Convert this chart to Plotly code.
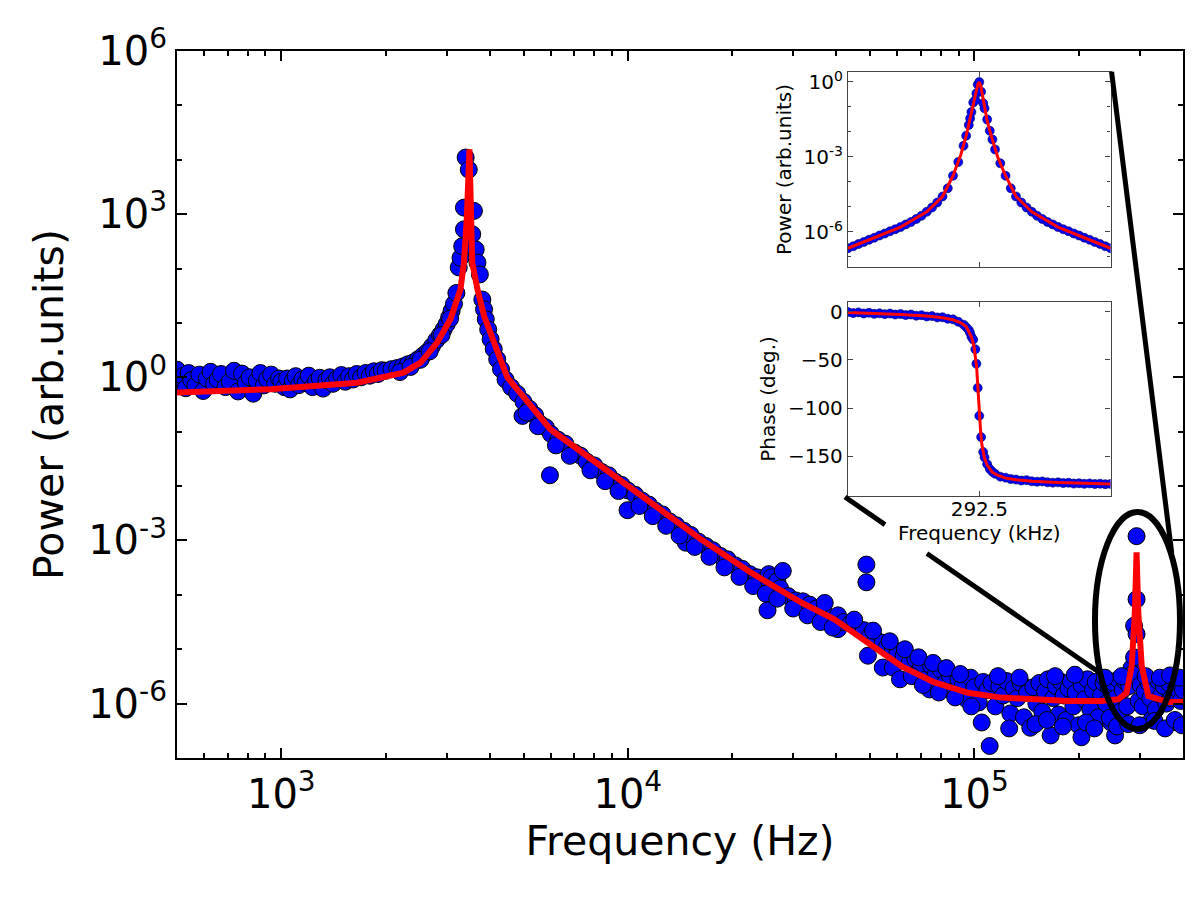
import math
import plotly.graph_objects as go

# ---------------- main spectrum: measured points (Hz, arb. units) ----------------
scatter_freq_hz = [
    500, 510, 520, 530, 540, 550, 565, 580, 595, 610, 625, 640, 655, 670, 690, 710, 730, 750, 770, 790,
    810, 830, 850, 870, 890, 910, 935, 960, 985,
    1000, 1020, 1040, 1060, 1080, 1100, 1125, 1150, 1175, 1200, 1230, 1260, 1290, 1320, 1350, 1380, 1410,
    1450, 1490, 1530, 1570, 1610, 1650, 1700, 1750, 1800, 1850, 1900, 1950,
    2000, 2080, 2160, 2240, 2320, 2400, 2480, 2560, 2640, 2720, 2800, 2870, 2940, 3000, 3050, 3100, 3150, 3200,
    2200, 2360, 2520, 2680, 2900, 3070,
    3251, 3289, 3327, 3365, 3365, 3404, 3475, 3556, 3597, 3639, 3681, 3741,
    3802, 3846, 3890, 3954, 4018, 4102, 4198, 4305, 4436, 4603, 4797, 4966,
    5000, 5200, 5400, 5600, 5800, 6000, 5960, 6300, 6600, 7000, 7300, 7600, 8000, 8400, 8800, 9200, 9600,
    10000, 9980, 10500, 11000, 11500, 12000, 12600, 13200, 13800, 14500, 14700, 15200, 16000, 16800, 17600,
    18500, 19400, 20400, 21400, 22500, 23600, 24800, 25500, 26000, 26500, 27000, 27500, 28000, 25300,
    29000, 30500, 32000, 33500, 35000, 36700, 37000, 38500, 40400, 40400, 42000, 44000, 46000, 48000,
    48800, 48800, 49300, 50000, 52000, 54400, 54400, 56000, 58200, 58200, 60000, 62500, 65000, 67500,
    70000, 72500, 74300, 75000, 77500, 80000, 82500, 85000, 87500, 90000, 92500, 95000, 97500,
    100000, 103000, 106000, 110700, 109000, 112000, 115000, 118000, 121000, 124000, 127000, 130000,
    133000, 136000, 139000, 142000, 145000, 148000, 151000, 154000, 157000, 160000, 163000, 166000,
    169000, 172000, 175000, 178000, 181000, 184000, 187000, 190000, 193000, 196000, 200000, 203700,
    204000, 208000, 212000, 216000, 220000, 224000, 228000, 232000, 236000, 240000, 244000, 248000,
    252000, 254700, 256000, 260000, 264000, 268000, 272000, 276000, 280000, 284000,
    293800, 293800, 289000, 293800, 289000, 286000,
    298000, 302000, 306000, 310000, 325000, 318000, 322000, 328000, 334000, 340000, 346000, 352000,
    358000, 364000, 370000, 384000, 382000, 388000, 394000, 400000,
    # lower edge of the band, 5-40 kHz
    5100, 5500, 6200, 6800, 7800, 8600, 9400, 10800, 11800, 12900, 14100, 15600, 17200, 19000, 21000,
    23000, 25000, 27000, 30000, 33000, 36000, 39000,
    # upper and lower edges, 45-100 kHz
    45000, 51000, 57000, 63000, 69000, 76000, 83000, 91000, 61000, 66000, 71000, 79000, 88000, 98000,
    # noise floor edges, 100-400 kHz
    105000, 117000, 126000, 135000, 150000, 162000, 171000, 180000, 195000, 210000, 222000, 238000,
    246000, 258000, 266000, 278000, 300000, 312000, 331000, 343000, 355000, 367000, 379000, 391000, 397000,
]
scatter_power = [
    1.38, 0.79, 1.05, 0.63, 1.2, 0.89, 0.71, 1.12, 0.56, 0.95, 1.26, 0.76, 0.91, 1.15, 0.66, 0.83, 1.32, 0.55, 1.17, 0.79,
    1.0, 0.50, 0.87, 1.2, 0.71, 0.93, 1.12, 0.76, 0.95,
    0.83, 0.66, 0.95, 0.60, 0.87, 1.05, 0.72, 0.91, 0.79, 1.07, 0.66, 0.85, 0.98, 0.62, 0.89, 1.0, 0.76,
    0.95, 1.10, 0.83, 1.05, 0.91, 1.15, 1.0, 1.2, 1.07, 1.29, 1.15, 1.35,
    1.32, 1.41, 1.48, 1.58, 1.74, 1.86, 2.14, 2.5, 2.95, 3.7, 4.8, 6.0, 7.6, 9.5, 12.6, 16.6, 22.4, 35.5,
    1.25, 1.55, 2.1, 3.0, 6.0, 12.0,
    105, 158, 257, 525, 1318, 11000, 6600, 427, 1148, 224, 129, 78,
    26.9, 17.8, 11.7, 7.6, 5.0, 3.3, 2.14, 1.41, 0.91, 0.66, 0.50, 0.195,
    0.355, 0.263, 0.20, 0.138, 0.12, 0.091, 0.0158, 0.0708, 0.060, 0.0417, 0.0363, 0.0282, 0.024, 0.0182, 0.0158, 0.012, 0.0105,
    0.0083, 0.0036, 0.0069, 0.0054, 0.00457, 0.00355, 0.0030, 0.00224, 0.0019, 0.00151, 0.00091, 0.00126, 0.00095, 0.00079, 0.00066,
    0.00052, 0.00045, 0.00035, 0.00030, 0.00024, 0.00021, 0.00019, 0.00024, 0.00021, 0.000158, 0.000178, 0.000132, 0.000275, 5.2e-5,
    9.5e-5, 7.9e-5, 7.6e-5, 6.6e-5, 5.6e-5, 5.0e-5, 7.1e-5, 3.0e-5, 2.34e-5, 4.2e-5, 3.16e-5, 3.0e-5, 2.5e-5, 2.24e-5,
    3.6e-4, 1.7e-4, 7.6e-6, 1.78e-5, 1.5e-5, 4.6e-6, 1.32e-5, 1.12e-5, 4.6e-6, 1.0e-5, 8.9e-6, 7.6e-6, 5.6e-6, 6.6e-6,
    4.5e-6, 2.8e-6, 1.82e-6, 5.0e-6, 3.5e-6, 4.2e-6, 2.4e-6, 3.3e-6, 1.58e-6, 2.8e-6, 2.1e-6, 1.2e-6, 3.0e-6,
    2.0e-6, 1.05e-6, 2.5e-6, 1.66e-7, 1.78e-6, 2.4e-6, 8.9e-7, 2.1e-6, 1.41e-6, 2.6e-6, 6.6e-7, 1.9e-6,
    1.26e-6, 2.4e-6, 5.6e-7, 1.58e-6, 3.6e-7, 2.0e-6, 1.0e-6, 2.4e-6, 7.1e-7, 1.66e-6, 2.8e-6, 2.6e-7,
    1.26e-6, 2.1e-6, 6.3e-7, 2.5e-6, 1.41e-6, 5.0e-7, 1.9e-6, 2.6e-6, 8.9e-7, 1.58e-6, 4.0e-7, 2.4e-7,
    2.2e-6, 1.2e-6, 2.8e-6, 7.9e-7, 1.78e-6, 2.5e-6, 5.6e-7, 1.41e-6, 2.4e-6, 1.0e-6, 2.0e-6, 4.5e-7,
    2.4e-6, 2.6e-7, 1.26e-6, 2.8e-6, 7.1e-7, 1.78e-6, 2.6e-6, 8.9e-7, 2.1e-6, 4.5e-6,
    1.2e-3, 8.3e-5, 2.7e-5, 1.9e-5, 7.1e-6, 3.5e-6,
    1.12e-6, 2.2e-6, 8.9e-7, 1.66e-6, 5.1e-7, 2.4e-6, 1.26e-6, 2.0e-6, 7.9e-7, 2.6e-6, 1.41e-6, 2.1e-6,
    1.0e-6, 2.4e-6, 1.26e-6, 4.5e-7, 1.9e-6, 2.5e-6, 1.12e-6, 1.78e-6,
    0.224, 0.126, 0.056, 0.036, 0.0195, 0.0123, 0.0081, 0.0043, 0.0028, 0.00186, 0.00123, 0.00076, 0.0005, 0.00032, 0.000214,
    0.000145, 1.05e-4, 8.5e-5, 5.6e-5, 4.2e-5, 3.16e-5, 2.5e-5,
    3.5e-5, 2.2e-5, 1.4e-5, 1.0e-5, 7.1e-6, 5.6e-6, 4.5e-6, 3.5e-6, 2.8e-6, 3.2e-6, 2.2e-6, 1.6e-6, 1.3e-6, 8.9e-7,
    4.5e-7, 3.2e-6, 3.5e-7, 3.0e-6, 4.2e-7, 5.0e-7, 3.2e-6, 3.8e-7, 3.4e-6, 4.5e-7, 3.5e-7, 3.0e-6,
    5.5e-7, 3.8e-7, 3.2e-6, 4.2e-7, 4.0e-7, 3.2e-6, 4.8e-7, 3.0e-6, 3.5e-7, 3.3e-6, 5.0e-7, 3.0e-6, 4.0e-7,
]

# ---------------- main spectrum: fitted curve ----------------
fit_freq_hz = [
    500, 929, 1656, 2254, 2523, 2818, 3076, 3289, 3365, 3428, 3491, 3540, 3556, 3681, 3846, 4111, 4487,
    5012, 5984, 8356, 11641, 16255, 22646, 31623, 39446, 49317, 61518, 76736, 95940, 119670, 149280,
    186640, 232810, 260020, 274790, 284450, 290400, 293800, 297200, 304100, 317700, 363080, 400000,
]
fit_power = [
    0.525, 0.603, 0.794, 1.22, 1.86, 4.37, 11.7, 41.7, 129, 794, 15490, 794, 129, 41.7, 13.5, 4.37, 1.0,
    0.427, 0.110, 0.0234, 0.00501, 0.00105, 2.57e-4, 7.24e-5, 3.55e-5, 1.32e-5, 4.90e-6, 2.45e-6, 1.58e-6,
    1.29e-6, 1.17e-6, 1.12e-6, 1.12e-6, 1.20e-6, 1.58e-6, 4.90e-6, 4.68e-5, 6.03e-4, 4.68e-5, 4.90e-6,
    1.38e-6, 1.07e-6, 1.07e-6,
]

# ---------------- inset: zoom on the 292.5 kHz mode ----------------
inset_freq_khz = [
    292.00, 292.02, 292.04, 292.06, 292.08, 292.10, 292.12, 292.14, 292.16, 292.18, 292.20, 292.22, 292.24,
    292.26, 292.28, 292.30, 292.32, 292.34, 292.36, 292.38, 292.40,
    292.42, 292.44, 292.45, 292.46, 292.465, 292.47, 292.477, 292.485, 292.489, 292.494, 292.500, 292.507,
    292.515, 292.52, 292.53, 292.54, 292.55, 292.56, 292.58,
    292.60, 292.62, 292.64, 292.66, 292.68, 292.70, 292.72, 292.74, 292.76, 292.78, 292.80, 292.82, 292.84,
    292.86, 292.88, 292.90, 292.92, 292.94, 292.96, 292.98, 293.00,
]
inset_power = [
    2.24e-7, 2.69e-7, 3.31e-7, 3.98e-7, 4.90e-7, 5.89e-7, 7.24e-7, 8.71e-7, 1.07e-6, 1.29e-6, 1.58e-6, 2.00e-6, 2.51e-6,
    3.31e-6, 4.47e-6, 6.46e-6, 9.55e-6, 1.51e-5, 2.63e-5, 5.62e-5, 1.78e-4,
    6.31e-4, 2.82e-3, 7.08e-3, 1.91e-2, 3.47e-2, 6.31e-2, 0.151, 0.19, 0.355, 0.79, 1.0, 0.41,
    0.141, 0.089, 0.0316, 0.0112, 5.0e-3, 2.0e-3, 5.6e-4,
    1.78e-4, 5.62e-5, 2.63e-5, 1.51e-5, 9.55e-6, 6.46e-6, 4.47e-6, 3.31e-6, 2.51e-6, 2.00e-6, 1.58e-6, 1.29e-6, 1.07e-6,
    8.71e-7, 7.24e-7, 5.89e-7, 4.90e-7, 3.98e-7, 3.31e-7, 2.69e-7, 2.24e-7,
]
inset_phase_deg = [
    -0.5, -1.5, -0.8, -1.9, -1.2, -2.3, -1.8, -2.6, -2.0, -3.0, -2.5, -3.6, -3.0,
    -4.2, -3.7, -5.0, -4.6, -6.0, -5.8, -7.5, -8.0,
    -10.5, -13.5, -16, -19, -22, -26, -29, -39, -54, -79, -108, -130,
    -145.5, -151, -158, -163, -166, -168, -171,
    -172, -173.5, -174, -175, -174.6, -175.8, -176.2, -175.9, -176.8, -177.2, -176.9, -177.6, -177.3,
    -178.1, -177.8, -178.4, -178.0, -178.6, -178.3, -178.8, -178.5,
]
inset_fit_freq_khz = [
    292.00, 292.10, 292.20, 292.30, 292.36, 292.40, 292.43, 292.45, 292.46, 292.47, 292.48, 292.49, 292.495,
    292.50, 292.505, 292.51, 292.52, 292.53, 292.54, 292.55, 292.57, 292.60, 292.64, 292.70, 292.80, 292.90, 293.00,
]
inset_fit_power = [
    2.24e-7, 5.89e-7, 1.58e-6, 6.46e-6, 2.63e-5, 1.78e-4, 1.26e-3, 7.08e-3, 1.91e-2, 5.62e-2, 0.166, 0.50, 0.83,
    1.0, 0.76, 0.40, 0.10, 0.0282, 0.0112, 5.0e-3, 1.0e-3, 1.78e-4, 2.63e-5, 6.46e-6, 1.58e-6, 5.89e-7, 2.24e-7,
]
inset_fit_phase_deg = [
    -1.0, -1.9, -2.9, -4.5, -6.3, -8.4, -11.5, -15.5, -20, -26, -36, -58, -80,
    -104, -124, -138, -152, -159, -163.5, -166.5, -169.5, -172.5, -174.2, -175.7, -177.1, -178.0, -178.6,
]

main_x_ticks = [1e3, 1e4, 1e5]
main_x_ticktext = ["10<sup>3</sup>", "10<sup>4</sup>", "10<sup>5</sup>"]
main_y_ticks = [1e-6, 1e-3, 1, 1e3, 1e6]
main_y_ticktext = ["10<sup>-6</sup>", "10<sup>-3</sup>", "10<sup>0</sup>", "10<sup>3</sup>", "10<sup>6</sup>"]
inset_y_ticks = [1e-6, 1e-3, 1]
inset_y_ticktext = ["10<sup>-6</sup>", "10<sup>-3</sup>", "10<sup>0</sup>"]

x_minor = [m * 10 ** e for e in (2, 3, 4, 5) for m in range(2, 10) if 500 <= m * 10 ** e <= 4e5]
y_minor = [1e-7, 1e-5, 1e-4, 1e-2, 1e-1, 1e1, 1e2, 1e4, 1e5]
inset_y_minor = [1e-7, 1e-5, 1e-4, 1e-2, 1e-1]

BLUE = "#0000ff"
RED = "#ff0000"

fig = go.Figure()
fig.add_trace(go.Scatter(x=scatter_freq_hz, y=scatter_power, mode="markers",
                         marker=dict(size=17, color=BLUE, line=dict(color="black", width=1)),
                         xaxis="x", yaxis="y"))
fig.add_trace(go.Scatter(x=fit_freq_hz, y=fit_power, mode="lines",
                         line=dict(color=RED, width=6), xaxis="x", yaxis="y"))

fig.add_trace(go.Scatter(x=inset_freq_khz, y=inset_power, mode="markers",
                         marker=dict(size=9, color=BLUE, line=dict(color="#000060", width=0.6)),
                         xaxis="x2", yaxis="y2"))
fig.add_trace(go.Scatter(x=inset_fit_freq_khz, y=inset_fit_power, mode="lines",
                         line=dict(color=RED, width=3), xaxis="x2", yaxis="y2"))
fig.add_trace(go.Scatter(x=inset_freq_khz, y=inset_phase_deg, mode="markers",
                         marker=dict(size=9, color=BLUE, line=dict(color="#000060", width=0.6)),
                         xaxis="x3", yaxis="y3"))
fig.add_trace(go.Scatter(x=inset_fit_freq_khz, y=inset_fit_phase_deg, mode="lines",
                         line=dict(color=RED, width=3), xaxis="x3", yaxis="y3"))

frame = dict(showline=True, linecolor="black", linewidth=2, mirror="allticks", ticks="inside",
             tickcolor="black", showgrid=False, zeroline=False)
iframe = dict(showline=True, linecolor="#444444", linewidth=1.3, mirror="allticks", ticks="inside",
              tickcolor="#444444", showgrid=False, zeroline=False)

X_DOM = [0.667, 0.928]

fig.update_layout(
    width=1200, height=897,
    margin=dict(l=177, r=17, t=51, b=139),
    paper_bgcolor="white", plot_bgcolor="white",
    font=dict(family="DejaVu Sans", color="black"),
    showlegend=False,
    xaxis=dict(type="log", range=[math.log10(500), math.log10(4e5)], domain=[0, 1], anchor="y",
               tickmode="array", tickvals=main_x_ticks, ticktext=main_x_ticktext, ticklen=10, tickwidth=1.5,
               tickfont=dict(size=40),
               minor=dict(tickmode="array", tickvals=x_minor, ticks="inside", ticklen=5, tickcolor="black",
                          showgrid=False),
               title=dict(text="Frequency (Hz)", font=dict(size=41), standoff=8), **frame),
    yaxis=dict(type="log", range=[-7, 6], domain=[0, 1], anchor="x",
               tickmode="array", tickvals=main_y_ticks, ticktext=main_y_ticktext, ticklen=10, tickwidth=1.5,
               tickfont=dict(size=40),
               minor=dict(tickmode="array", tickvals=y_minor, ticks="inside", ticklen=5, tickcolor="black",
                          showgrid=False),
               title=dict(text="Power (arb.units)", font=dict(size=41), standoff=12), **frame),
    xaxis2=dict(range=[292.0, 293.0], domain=X_DOM, anchor="y2", tickmode="array", tickvals=[292.5],
                showticklabels=False, ticklen=5, **iframe),
    yaxis2=dict(type="log", range=[-7.4, 0.4], domain=[0.6945, 0.9703], anchor="x2",
                tickmode="array", tickvals=inset_y_ticks, ticktext=inset_y_ticktext, ticklen=5,
                tickfont=dict(size=20),
                minor=dict(tickmode="array", tickvals=inset_y_minor, ticks="inside", ticklen=3,
                           tickcolor="#444444", showgrid=False),
                title=dict(text="Power (arb.units)", font=dict(size=20), standoff=6), **iframe),
    xaxis3=dict(range=[292.0, 293.0], domain=X_DOM, anchor="y3", tickmode="array", tickvals=[292.5],
                ticktext=["292.5"], ticklen=5, tickfont=dict(size=20), ticklabelstandoff=-5,
                title=dict(text="Frequency (kHz)", font=dict(size=20), standoff=0), **iframe),
    yaxis3=dict(range=[-191, 10], domain=[0.3706, 0.645], anchor="x3",
                tickmode="array", tickvals=[0, -50, -100, -150], ticklen=5, tickfont=dict(size=20),
                title=dict(text="Phase (deg.)", font=dict(size=20), standoff=6), **iframe),
)

# ellipse around the 292.5 kHz mode and connector lines to the inset
fig.add_shape(type="circle", xref="paper", yref="paper", x0=0.9125, x1=0.997, y0=0.041, y1=0.348,
              line=dict(color="black", width=6), layer="above")
fig.add_shape(type="line", xref="paper", yref="paper", x0=0.929, y0=0.9707, x1=0.9888, y1=0.290,
              line=dict(color="black", width=5), layer="above")
fig.add_shape(type="line", xref="paper", yref="paper", x0=0.6640, y0=0.3692, x1=0.7038, y1=0.3301,
              line=dict(color="black", width=5), layer="above")
fig.add_shape(type="line", xref="paper", yref="paper", x0=0.7455, y0=0.2893, x1=0.9175, y1=0.1202,
              line=dict(color="black", width=5), layer="above")

fig.write_html("out.html")
